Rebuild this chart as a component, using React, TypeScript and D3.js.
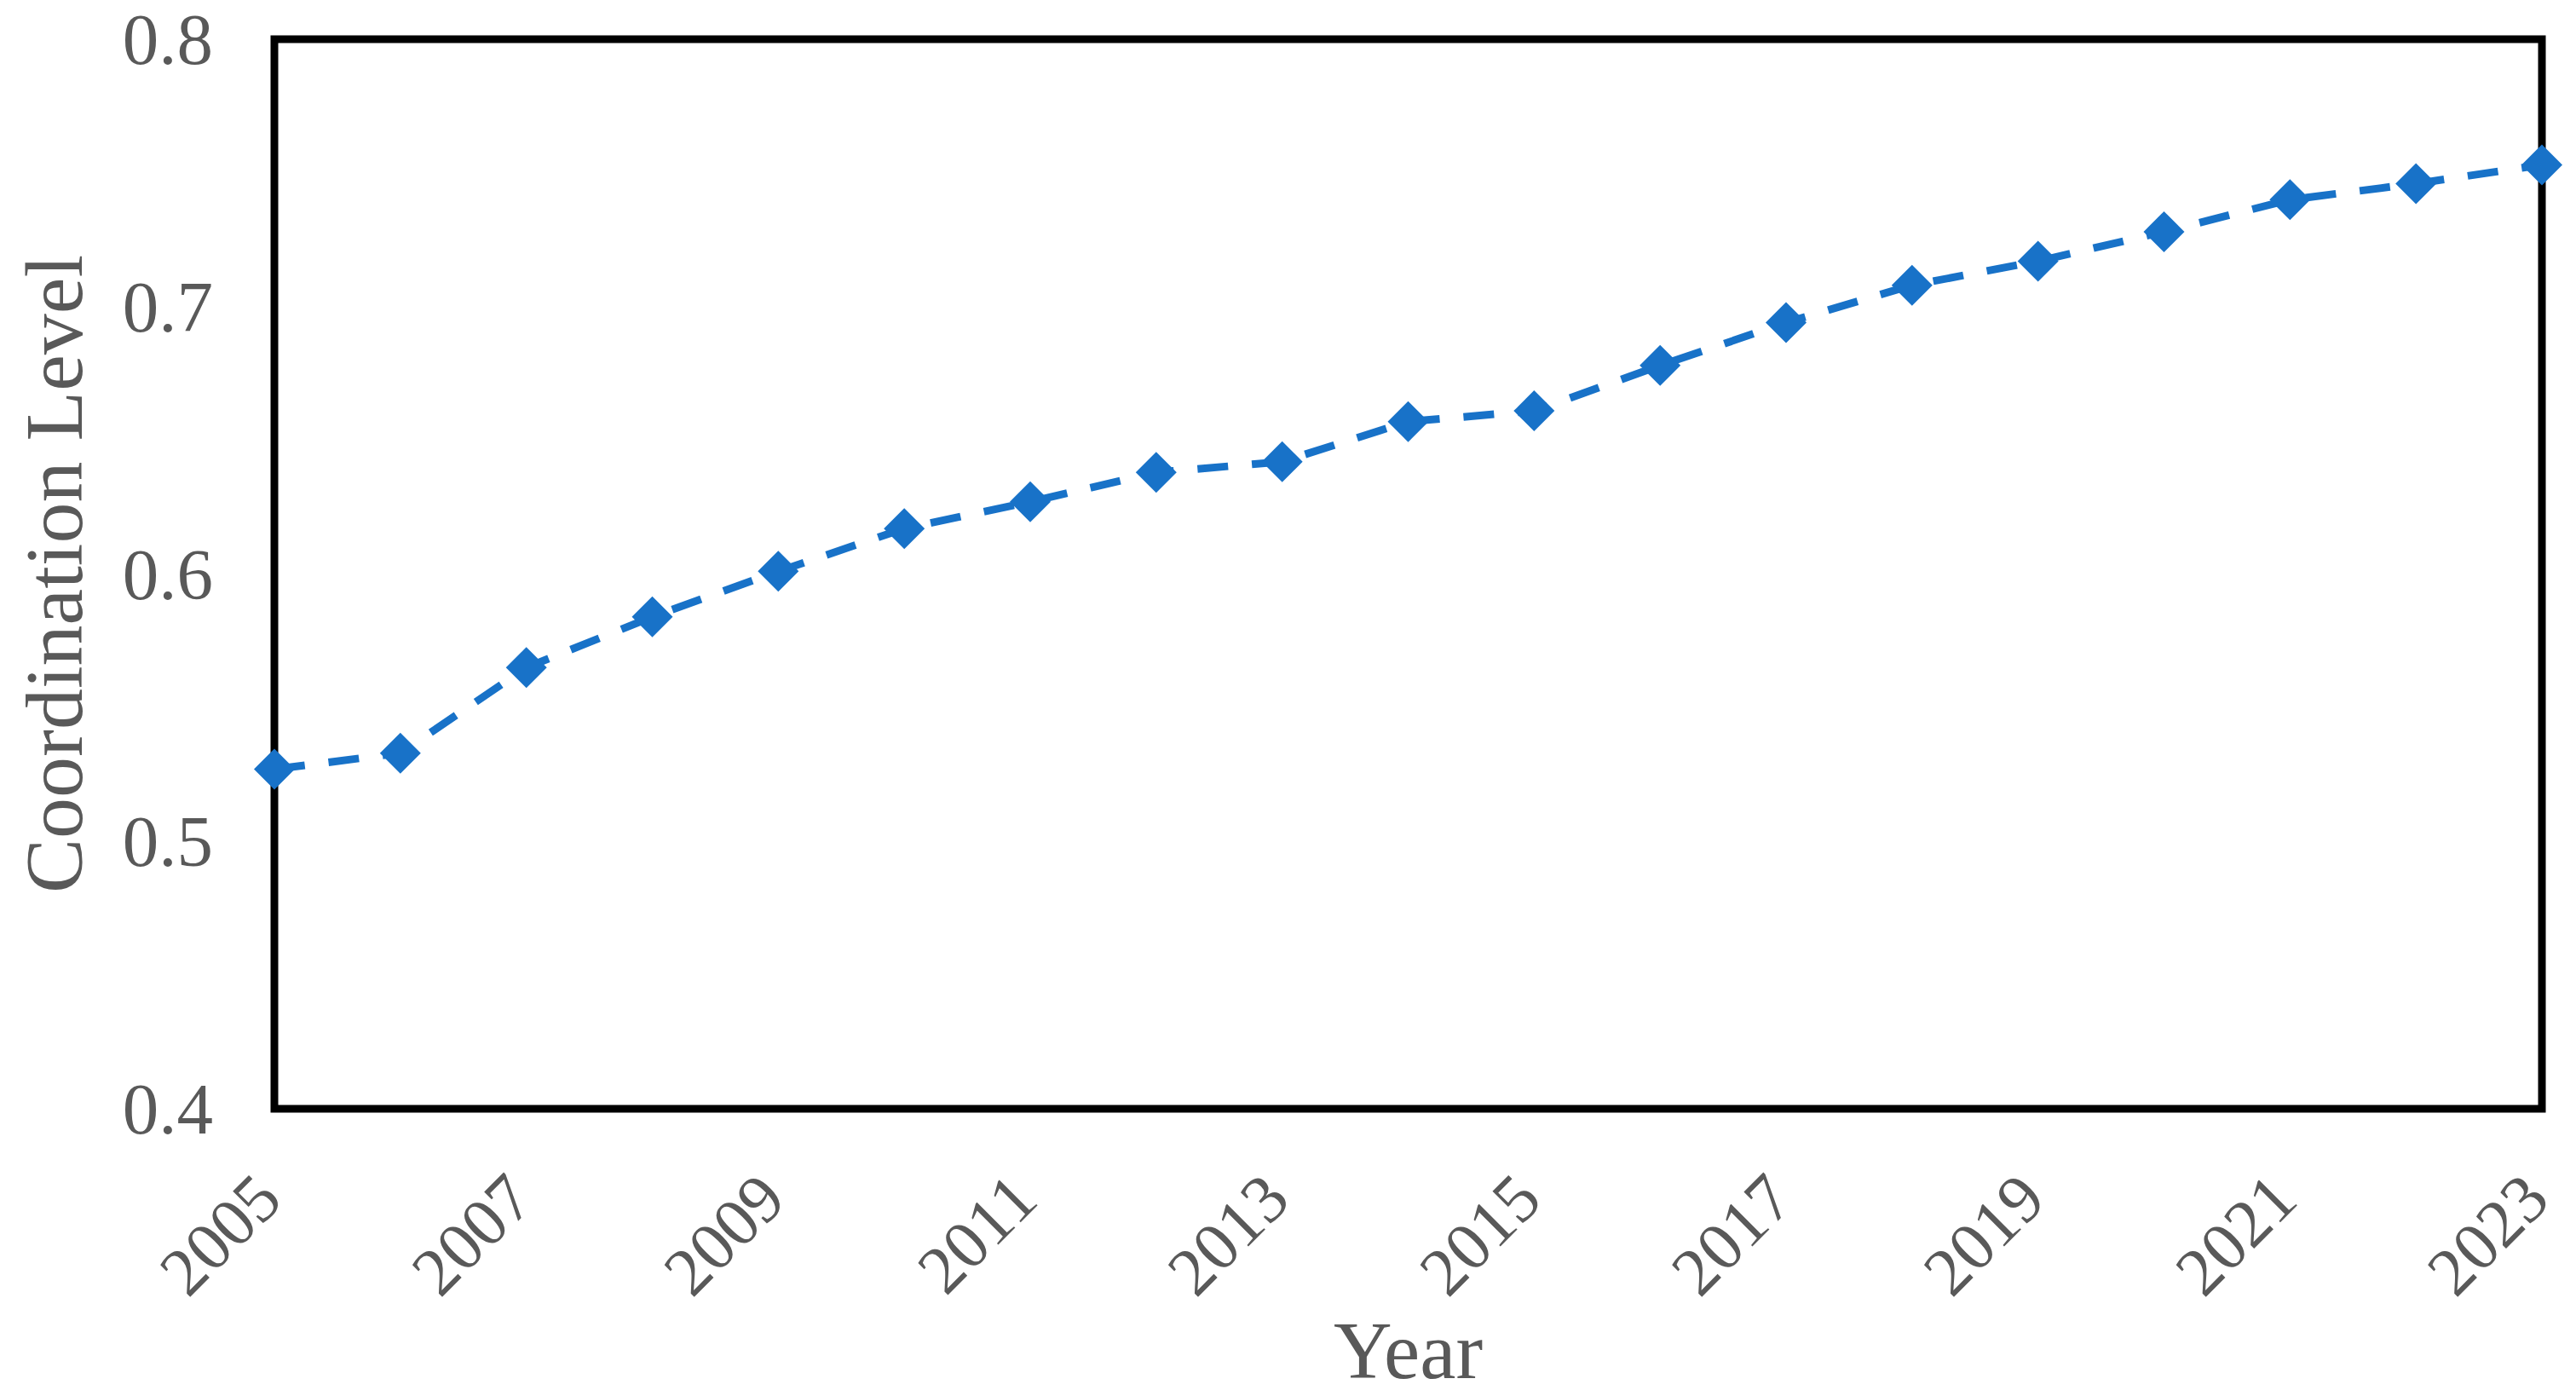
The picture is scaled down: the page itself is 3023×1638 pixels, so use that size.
import * as d3 from "d3";

const years = [2005, 2006, 2007, 2008, 2009, 2010, 2011, 2012, 2013, 2014, 2015, 2016, 2017, 2018, 2019, 2020, 2021, 2022, 2023];
const levels = [0.527, 0.533, 0.565, 0.584, 0.601, 0.617, 0.627, 0.638, 0.642, 0.657, 0.661, 0.678, 0.694, 0.708, 0.717, 0.728, 0.740, 0.746, 0.753];
const yTicks = [0.4, 0.5, 0.6, 0.7, 0.8];
const xTicks = [2005, 2007, 2009, 2011, 2013, 2015, 2017, 2019, 2021, 2023];

export default function App() {
  const width = 3023;
  const height = 1638;
  const margin = { top: 46, right: 40, bottom: 337, left: 322 };
  const plotRight = width - margin.right;
  const plotBottom = height - margin.bottom;

  const font = "'Liberation Serif', 'Times New Roman', serif";
  const textColor = "#595959";
  const blue = "#1872C8";

  // x -> years across the plot box
  const x = d3.scaleLinear().domain([2005, 2023]).range([margin.left, plotRight]);
  // y -> coordination level
  const y = d3.scaleLinear().domain([0.4, 0.8]).range([plotBottom, margin.top]);

  const data = years.map((yr, i) => ({ year: yr, value: levels[i] }));

  const line = d3
    .line<{ year: number; value: number }>()
    .x(d => x(d.year))
    .y(d => y(d.value));

  const r = 24;
  const diamond = (cx: number, cy: number) =>
    `M${cx},${cy - r}L${cx + r},${cy}L${cx},${cy + r}L${cx - r},${cy}Z`;

  return (
    <svg
      width={width}
      height={height}
      style={{ position: "absolute", left: 0, top: 0, background: "#fff" }}
    >
      {/* plot box */}
      <rect
        x={margin.left}
        y={margin.top}
        width={plotRight - margin.left}
        height={plotBottom - margin.top}
        fill="none"
        stroke="#000"
        strokeWidth={9}
      />

      {/* y tick labels */}
      {yTicks.map(t => (
        <text
          key={t}
          x={margin.left - 72}
          y={y(t) + 29}
          textAnchor="end"
          fontSize={85}
          fontFamily={font}
          fill={textColor}
        >
          {t.toFixed(1)}
        </text>
      ))}

      {/* x tick labels, rotated */}
      {xTicks.map(t => (
        <text
          key={t}
          transform={`translate(${x(t) + 12},${plotBottom + 110}) rotate(-45)`}
          textAnchor="end"
          fontSize={80}
          fontFamily={font}
          fill={textColor}
        >
          {t}
        </text>
      ))}

      {/* axis titles */}
      <text
        x={(margin.left + plotRight) / 2}
        y={1617}
        textAnchor="middle"
        fontSize={95}
        fontFamily={font}
        fill={textColor}
      >
        Year
      </text>
      <text
        transform={`translate(96,${(margin.top + plotBottom) / 2}) rotate(-90)`}
        textAnchor="middle"
        fontSize={96}
        fontFamily={font}
        fill={textColor}
      >
        Coordination Level
      </text>

      {/* series */}
      <path
        d={line(data) ?? ""}
        fill="none"
        stroke={blue}
        strokeWidth={9}
        strokeDasharray="36 28"
      />
      {data.map(d => (
        <path key={d.year} d={diamond(x(d.year), y(d.value))} fill={blue} />
      ))}
    </svg>
  );
}
